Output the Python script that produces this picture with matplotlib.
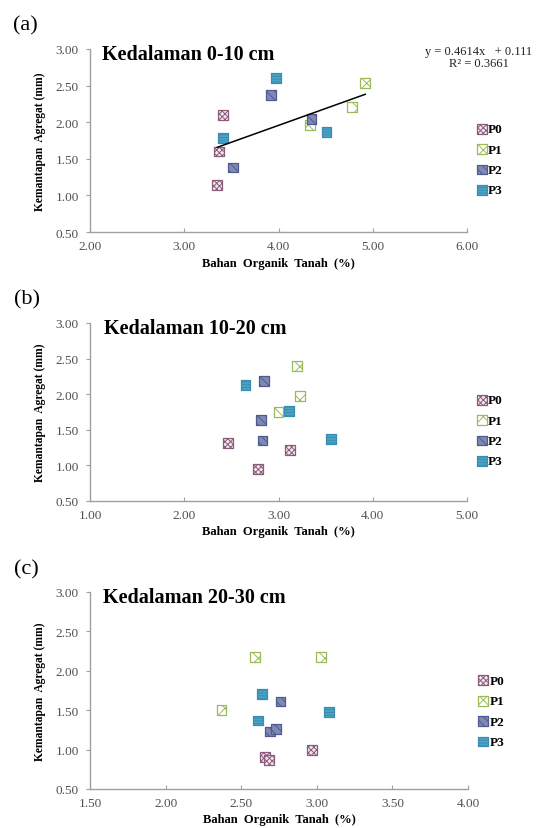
import matplotlib
matplotlib.use("Agg")
import matplotlib.pyplot as plt
import numpy as np

plt.rcParams['font.family'] = ['Liberation Serif', 'DejaVu Serif']
plt.rcParams['hatch.linewidth'] = 0.7

series = ["P0", "P1", "P2", "P3"]

# Panel (a) Kedalaman 0-10 cm
a_x = {"P0": [3.41, 3.37, 3.35], "P1": [4.92, 4.78, 4.33],
       "P2": [3.92, 3.52, 4.35], "P3": [3.97, 3.41, 4.51]}
a_y = {"P0": [2.10, 1.60, 1.14], "P1": [2.53, 2.21, 1.96],
       "P2": [2.37, 1.38, 2.04], "P3": [2.60, 1.78, 1.87]}
# Panel (b) Kedalaman 10-20 cm
b_x = {"P0": [2.46, 2.78, 3.12], "P1": [3.20, 3.23, 3.00],
       "P2": [2.85, 2.81, 2.83], "P3": [2.65, 3.11, 3.56]}
b_y = {"P0": [1.32, 0.95, 1.22], "P1": [2.40, 1.98, 1.75],
       "P2": [2.18, 1.64, 1.35], "P3": [2.13, 1.76, 1.37]}
# Panel (c) Kedalaman 20-30 cm
c_x = {"P0": [2.66, 2.685, 2.97], "P1": [2.59, 3.03, 2.37],
       "P2": [2.76, 2.69, 2.73], "P3": [2.64, 2.61, 3.08]}
c_y = {"P0": [0.91, 0.87, 0.99], "P1": [2.18, 2.17, 1.50],
       "P2": [1.61, 1.23, 1.26], "P3": [1.71, 1.37, 1.48]}

titles = ["Kedalaman 0-10 cm", "Kedalaman 10-20 cm", "Kedalaman 20-30 cm"]
panel_labels = ["(a)", "(b)", "(c)"]
xlims = [(2.0, 6.0), (1.0, 5.0), (1.5, 4.0)]
xsteps = [1.0, 1.0, 0.5]
ylim = (0.5, 3.0)
ystep = 0.5

trend_slope = 0.4614
trend_intercept = 0.111
trend_text = "y = 0.4614x   + 0.111\nR² = 0.3661"

styles = {
    "P0": dict(face="#F3E8EE", edge="#8A5C7C", hatch="xxxxxx", hcolor="#8A6A96"),
    "P1": dict(face="white", edge="#9BBB59", hatch="xx", hcolor="#9BBB59"),
    "P2": dict(face="#7F8AB4", edge="#4F5B8E", hatch="\\\\\\\\", hcolor="white"),
    "P3": dict(face="#4BA3C6", edge="#3A8DB0", hatch="------", hcolor="white"),
}

W, H = 540, 829
fig = plt.figure(figsize=(W / 100, H / 100), dpi=100)

# axes boxes in pixels: left, right, top, bottom
boxes = [(90, 467, 50, 233), (90, 467, 324, 502), (90, 468, 593, 790)]
label_pos = [(13, 26), (14, 300), (14, 570)]
title_pos = [(0.031, 0.945), (0.037, 0.944), (0.035, 0.949)]

datasets = [(a_x, a_y), (b_x, b_y), (c_x, c_y)]

for i, (dx, dy) in enumerate(datasets):
    l, r, t, b = boxes[i]
    ax = fig.add_axes([l / W, 1 - b / H, (r - l) / W, (b - t) / H])
    handles = []
    for s in series:
        st = styles[s]
        with plt.rc_context({'hatch.color': st["hcolor"]}):
            h = ax.scatter(dx[s], dy[s], marker="s", s=50, facecolor=st["face"],
                           edgecolor=st["edge"], hatch=st["hatch"], linewidths=0.9,
                           label=s, zorder=3)
        handles.append(h)
    if i == 0:
        allx = np.concatenate([dx[s] for s in series])
        xs = np.array([allx.min(), allx.max()])
        ax.plot(xs, trend_slope * xs + trend_intercept, color="black", lw=1.1, zorder=4)
        fig.text(479 / W, 1 - 58 / H, trend_text, ha="center", va="center",
                 fontsize=9, color="#222222", linespacing=1.0)
    x0, x1 = xlims[i]
    ax.set_xlim(x0, x1)
    ax.set_ylim(*ylim)
    ax.set_xticks(np.arange(x0, x1 + 1e-9, xsteps[i]))
    ax.set_yticks(np.arange(ylim[0], ylim[1] + 1e-9, ystep))
    ax.xaxis.set_major_formatter(matplotlib.ticker.FormatStrFormatter("%.2f"))
    ax.yaxis.set_major_formatter(matplotlib.ticker.FormatStrFormatter("%.2f"))
    for sp in ["top", "right"]:
        ax.spines[sp].set_visible(False)
    for sp in ["left", "bottom"]:
        ax.spines[sp].set_color("#A0A0A0")
        ax.spines[sp].set_linewidth(1.0)
    ax.tick_params(axis="y", direction="out", length=3, width=0.8, color="#A0A0A0",
                   labelsize=9.5, labelcolor="#505050", pad=5)
    ax.tick_params(axis="x", direction="in", length=3, width=0.8, color="#A0A0A0",
                   labelsize=9.5, labelcolor="#505050", pad=6)
    ax.set_xlabel("Bahan  Organik  Tanah  (%)", fontsize=9, fontweight="bold", labelpad=3)
    ax.set_ylabel("Kemantapan  Agregat (mm)", fontsize=8.3, fontweight="bold", labelpad=7)
    ax.text(title_pos[i][0], title_pos[i][1], titles[i], transform=ax.transAxes,
            fontsize=14.5, fontweight="bold", va="baseline", ha="left")
    fig.text(label_pos[i][0] / W, 1 - label_pos[i][1] / H, panel_labels[i],
             fontsize=16, va="center", ha="left")
    ax.legend(handles=handles, loc="center left", bbox_to_anchor=(1.03, 0.395),
              frameon=False, handlelength=0.6, handletextpad=0.15,
              labelspacing=0.62, borderpad=0, borderaxespad=0,
              prop={"weight": "bold", "size": 9.5}, scatterpoints=1)

fig.savefig("out.png", dpi=100)
